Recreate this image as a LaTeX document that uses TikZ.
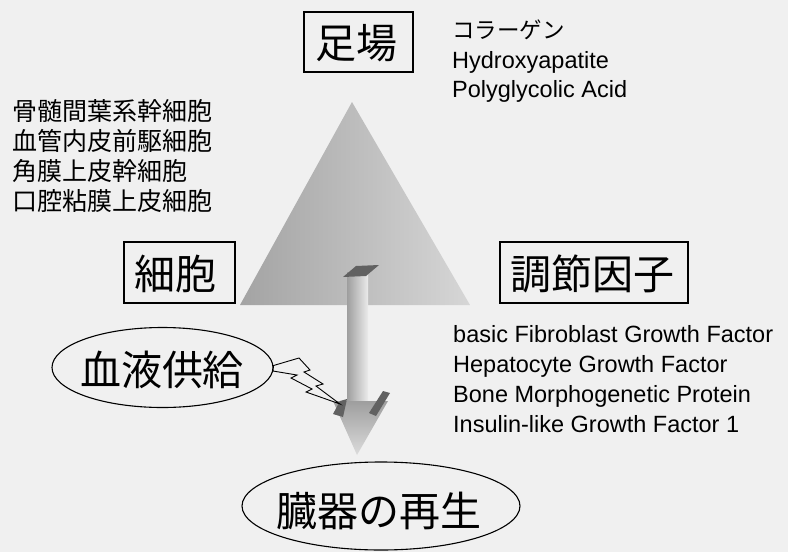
\documentclass[tikz,border=0pt]{standalone}
\usepackage{fontspec}
\setmainfont{Liberation Sans}
\newfontfamily\jp{Noto Sans CJK JP}
\usetikzlibrary{shapes.geometric}
\definecolor{bg}{gray}{0.94}
\tikzset{
  lbox/.style={draw=black, line width=1.1pt, inner sep=0pt},
  oval/.style={ellipse, draw=black, line width=1.1pt, inner sep=0pt},
  big/.style={font=\jp\fontsize{41}{41}\selectfont, inner sep=0pt},
  jplist/.style={font=\jp\fontsize{25}{25}\selectfont, inner sep=0pt, anchor=base west},
  enlist/.style={font=\fontsize{23.5}{23.5}\selectfont, inner sep=0pt, anchor=base west},
  jpsmall/.style={font=\jp\fontsize{22.5}{22.5}\selectfont, inner sep=0pt, anchor=base west},
  darkpiece/.style={fill=black!62, draw=none},
}
\begin{document}
\begin{tikzpicture}[x=1pt,y=-1pt]
\fill[bg] (0,0) rectangle (788,552);
\useasboundingbox (0,0) rectangle (788,552);

% triangle (scaffold pyramid)
\begin{scope}
  \clip (352,102) -- (470,305) -- (240,305) -- cycle;
  \shade[left color=black!36, right color=black!16] (240,95) rectangle (470,315);
\end{scope}

% vertical 3D arrow
\shade[left color=black!38, right color=black!8] (347,272) rectangle (368,402);
\shade[top color=black!38, bottom color=black!14] (333,401) -- (388,401) -- (357,455) -- cycle;
\fill[darkpiece] (343,277) -- (356,266) -- (379,265) -- (366,276) -- cycle;
\fill[darkpiece] (333,414) -- (340,401) -- (347,399) -- (343,417) -- cycle;
\fill[darkpiece] (369,413) -- (383,391) -- (390,393) -- (376,416) -- cycle;

% boxes
\node[lbox, minimum width=109, minimum height=60] (scaffold) at (358.5,42) {};
\node[big] at (356.5,43) {足場};
\node[lbox, minimum width=111, minimum height=61] (cell) at (179.5,272.5) {};
\node[big] at (175,274) {細胞};
\node[lbox, minimum width=188, minimum height=61] (factor) at (594,272.5) {};
\node[big] at (592,274) {調節因子};

% ellipses
\node[oval, minimum width=221, minimum height=80] (blood) at (162.5,367.5) {};
\node[big] at (162,370) {血液供給};
\node[oval, minimum width=278, minimum height=88] (organ) at (381,506) {};
\node[big] at (379,511) {臓器の再生};

% lightning bolt from blood supply to arrow
\filldraw[fill=bg, draw=black, line width=0.9pt]
  (blood.east) ++(0,-2) coordinate (b0)
  (b0) -- (299,358) -- (310,370) -- (304,372) -- (323,384) -- (316,386) -- (340,404)
  -- (306,392) -- (312,389) -- (291,378) -- (297,375) -- (273,371) -- cycle;

% text lists
\node[jpsmall] (t1) at (452,38) {コラーゲン};
\node[enlist] (t2) at (452,68) {Hydroxyapatite};
\node[enlist] (t3) at (452,97) {Polyglycolic Acid};

\node[jplist] (c1) at (12,120) {骨髄間葉系幹細胞};
\node[jplist] (c2) at (12,150) {血管内皮前駆細胞};
\node[jplist] (c3) at (12,180) {角膜上皮幹細胞};
\node[jplist] (c4) at (12,210) {口腔粘膜上皮細胞};

\node[enlist] (f1) at (453,342) {basic Fibroblast Growth Factor};
\node[enlist] (f2) at (453,372) {Hepatocyte Growth Factor};
\node[enlist] (f3) at (453,402) {Bone Morphogenetic Protein};
\node[enlist] (f4) at (453,432) {Insulin-like Growth Factor 1};
\end{tikzpicture}
\end{document}
